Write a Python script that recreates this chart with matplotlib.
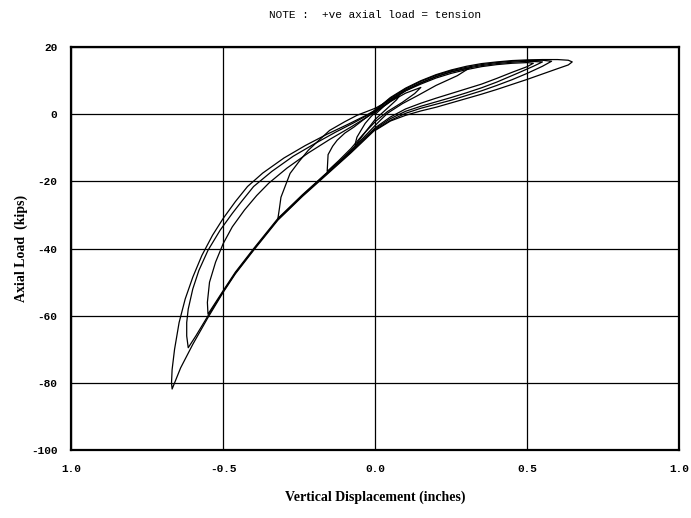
import matplotlib
matplotlib.use("Agg")
import matplotlib.pyplot as plt

# load cycles: displacement (in) and axial load (kips)
cycle1_x = [0.0, 0.03, 0.06, 0.08, 0.07, 0.04, 0.0, -0.03, -0.055, -0.066, -0.065, -0.06, -0.045, -0.033, -0.015, 0.0]
cycle1_y = [0.0, 2.5, 4.5, 5.5, 4.3, 1.8, -1.5, -5.0, -8.0, -9.5, -8.5, -6.8, -4.5, -2.7, -0.8, 0.6]

cycle2_x = [0.0, 0.05, 0.1, 0.15, 0.13, 0.09, 0.04, 0.0, -0.04, -0.08, -0.12, -0.158, -0.155, -0.14, -0.125, -0.1, -0.07, -0.03, 0.0]
cycle2_y = [0.6, 3.8, 6.3, 8.0, 6.2, 3.6, 0.8, -2.2, -6.0, -10.2, -13.8, -17.0, -12.0, -9.5, -7.7, -5.6, -3.8, -1.0, 0.8]

cycle3_x = [0.0, 0.05, 0.1, 0.15, 0.2, 0.25, 0.31, 0.27, 0.2, 0.14, 0.09, 0.04, 0.0, -0.05, -0.1, -0.16,
            -0.24, -0.3, -0.32, -0.315, -0.31, -0.28, -0.25, -0.22, -0.18, -0.15, -0.1, -0.06, 0.0]
cycle3_y = [0.8, 4.0, 7.0, 9.3, 11.2, 12.7, 13.8, 11.5, 8.6, 5.6, 3.2, 0.3, -3.3, -8.0, -12.5, -17.5,
            -24.2, -29.5, -31.0, -28.0, -24.7, -17.6, -14.0, -10.7, -7.3, -4.8, -2.2, -0.3, 1.8]

cycle4_x = [0.0, 0.05, 0.1, 0.15, 0.2, 0.25, 0.3, 0.35, 0.4, 0.45, 0.5, 0.52, 0.5, 0.45, 0.4, 0.35, 0.3,
            0.25, 0.2, 0.15, 0.1, 0.05, 0.0, -0.08, -0.16, -0.24, -0.32, -0.4, -0.46, -0.5, -0.55,
            -0.552, -0.545, -0.525, -0.5, -0.47, -0.43, -0.39, -0.35, -0.29, -0.22, -0.15, -0.08, -0.03, 0.0]
cycle4_y = [1.8, 4.3, 7.0, 9.0, 10.8, 12.2, 13.3, 14.2, 14.8, 15.2, 15.4, 15.2, 14.2, 12.5, 10.7, 9.0, 7.6,
            6.2, 4.8, 3.3, 1.6, -0.8, -4.0, -11.0, -17.5, -24.0, -31.0, -40.0, -47.0, -52.5, -59.5,
            -56.0, -50.0, -44.0, -38.5, -33.5, -28.5, -24.2, -20.5, -16.0, -11.5, -7.5, -3.8, -1.0, 1.0]

cycle5_x = [0.0, 0.05, 0.1, 0.15, 0.2, 0.25, 0.3, 0.35, 0.4, 0.45, 0.5, 0.55, 0.52, 0.47, 0.4, 0.35,
            0.3, 0.25, 0.2, 0.15, 0.1, 0.05, 0.0, -0.08, -0.16, -0.24, -0.32, -0.4, -0.46, -0.5, -0.55,
            -0.59, -0.615, -0.62, -0.62, -0.615, -0.6, -0.58, -0.55, -0.51, -0.47, -0.44, -0.4, -0.34,
            -0.27, -0.2, -0.13, -0.07, -0.02, 0.0]
cycle5_y = [1.0, 4.5, 7.3, 9.4, 11.2, 12.6, 13.7, 14.5, 15.1, 15.5, 15.8, 15.6, 14.3, 12.3, 9.6, 7.9,
            6.4, 5.0, 3.7, 2.4, 0.9, -1.3, -4.3, -11.3, -17.8, -24.3, -31.3, -40.3, -47.3, -52.8, -60.0,
            -66.0, -69.5, -66.0, -62.0, -58.0, -52.0, -46.5, -40.5, -34.5, -29.5, -26.0, -21.5, -17.0,
            -12.5, -8.8, -5.3, -2.5, 0.0, 1.3]

cycle6_x = [0.0, 0.05, 0.1, 0.15, 0.2, 0.25, 0.3, 0.35, 0.4, 0.45, 0.5, 0.55, 0.58, 0.55, 0.5, 0.45,
            0.4, 0.35, 0.3, 0.25, 0.2, 0.15, 0.1, 0.05, 0.0, -0.08, -0.16, -0.24, -0.32, -0.4, -0.46,
            -0.5, -0.55, -0.6, -0.64, -0.668, -0.67, -0.668, -0.66, -0.645, -0.625, -0.6, -0.57,
            -0.535, -0.5, -0.46, -0.42, -0.37, -0.3, -0.23, -0.16, -0.09, -0.03, 0.0]
cycle6_y = [1.3, 4.8, 7.6, 9.8, 11.6, 13.0, 14.0, 14.8, 15.4, 15.8, 16.0, 16.1, 15.8, 14.3, 12.2, 10.3,
            8.6, 7.0, 5.6, 4.2, 3.0, 1.8, 0.3, -1.8, -4.6, -11.5, -18.0, -24.5, -31.5, -40.5, -47.5,
            -53.0, -60.5, -68.5, -75.5, -81.8, -80.0, -76.0, -70.0, -62.0, -55.0, -48.5, -42.0,
            -36.0, -31.0, -26.0, -21.5, -17.5, -13.0, -9.3, -6.0, -3.0, -0.3, 1.2]

cycle7_x = [0.0, 0.05, 0.1, 0.15, 0.2, 0.25, 0.3, 0.35, 0.4, 0.45, 0.5, 0.55, 0.6, 0.635, 0.648, 0.635,
            0.6, 0.55, 0.5, 0.45, 0.4, 0.35, 0.3, 0.25, 0.2, 0.15, 0.1, 0.05, 0.0]
cycle7_y = [1.2, 5.0, 7.8, 10.0, 11.8, 13.2, 14.3, 15.1, 15.6, 16.0, 16.2, 16.3, 16.3, 16.1, 15.6, 14.7,
            13.6, 12.0, 10.4, 8.9, 7.4, 6.0, 4.7, 3.4, 2.1, 1.0, -0.3, -2.0, -4.8]

cycles = [(cycle1_x, cycle1_y), (cycle2_x, cycle2_y), (cycle3_x, cycle3_y), (cycle4_x, cycle4_y),
          (cycle5_x, cycle5_y), (cycle6_x, cycle6_y), (cycle7_x, cycle7_y)]

x_ticks = [-1.0, -0.5, 0.0, 0.5, 1.0]
x_tick_labels = ["1.0", "-0.5", "0.0", "0.5", "1.0"]
y_ticks = [-100, -80, -60, -40, -20, 0, 20]
y_tick_labels = ["-100", "-80", "-60", "-40", "-20", "0", "20"]

fig = plt.figure(figsize=(6.91, 5.18), dpi=100)
ax = fig.add_axes([0.103, 0.131, 0.880, 0.778])

for cx, cy in cycles:
    ax.plot(cx, cy, color="black", lw=0.9)

ax.set_xlim(-1.0, 1.0)
ax.set_ylim(-100, 20)
ax.set_xticks(x_ticks)
ax.set_xticklabels(x_tick_labels)
ax.set_yticks(y_ticks)
ax.set_yticklabels(y_tick_labels)
ax.tick_params(length=0, pad=10)
for lab in ax.get_xticklabels() + ax.get_yticklabels():
    lab.set_family("Liberation Mono")
    lab.set_fontweight("bold")
    lab.set_fontsize(8)

ax.grid(True, color="black", lw=0.9)
for s in ax.spines.values():
    s.set_linewidth(1.6)

ax.set_xlabel("Vertical Displacement (inches)", family="Liberation Serif",
              fontweight="bold", fontsize=10, labelpad=12)
ax.set_ylabel("Axial Load  (kips)", family="Liberation Serif",
              fontweight="bold", fontsize=10, labelpad=2)

fig.text(0.543, 0.971, "NOTE :  +ve axial load = tension", family="Liberation Mono",
         fontsize=8, ha="center", va="center")

fig.savefig("out.png", dpi=100)
